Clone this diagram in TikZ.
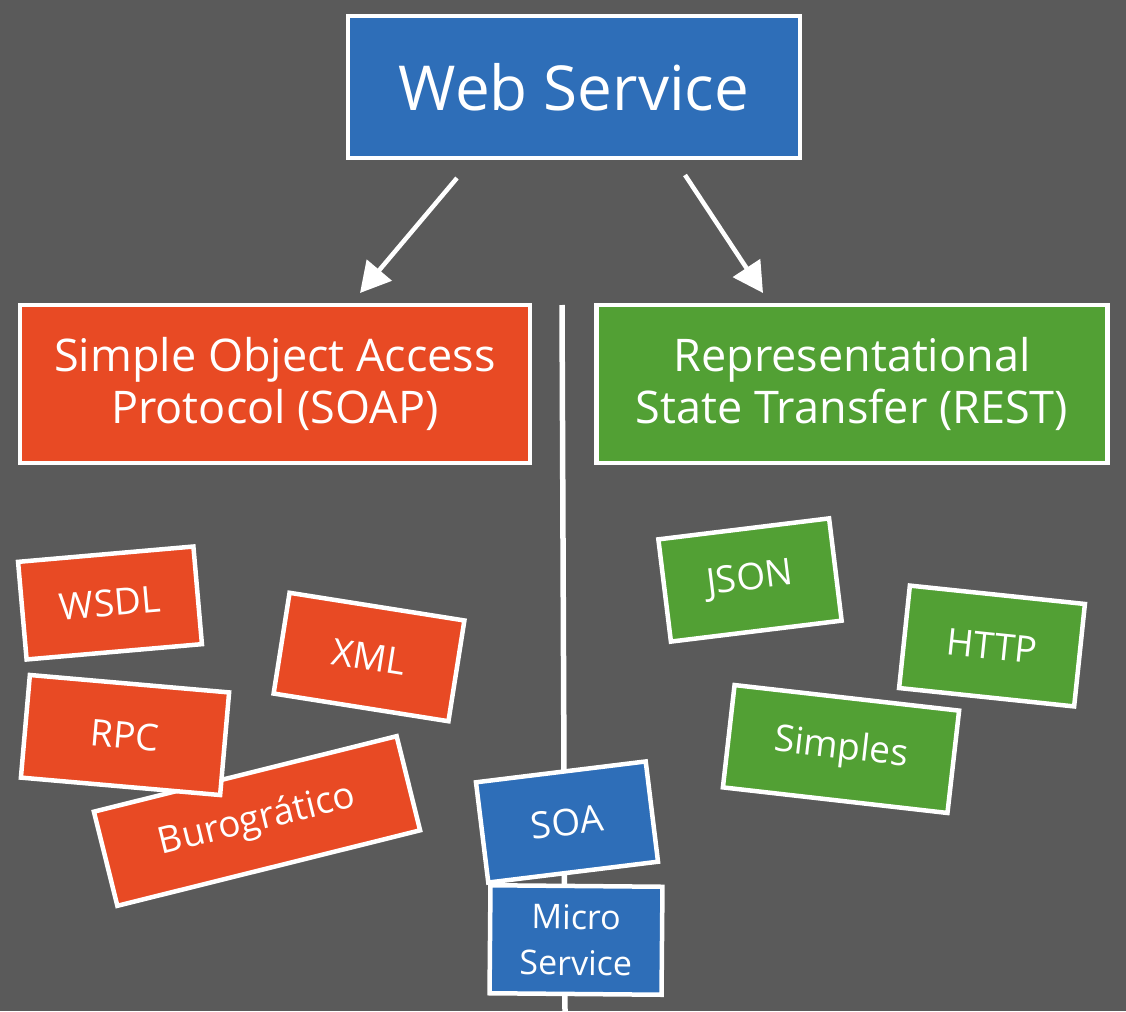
\documentclass[tikz,border=0pt]{standalone}
\usepackage{fontspec}
\setmainfont{Open Sans}
\usetikzlibrary{arrows.meta}
\definecolor{bg}{RGB}{90,90,90}
\definecolor{wsblue}{RGB}{46,110,184}
\definecolor{soapred}{RGB}{232,74,36}
\definecolor{restgreen}{RGB}{82,160,52}
\begin{document}
\begin{tikzpicture}[x=1pt,y=-1pt,
  card/.style={draw=white,line width=4.5pt,text=white,inner sep=0pt,align=center},
  bigtxt/.style={font=\fontsize{62}{68}\selectfont},
  midtxt/.style={font=\fontsize{45}{52}\selectfont},
  smalltxt/.style={font=\fontsize{37}{46}\selectfont},
  chalkarrow/.style={draw=white,line width=4.5pt,-{Triangle[width=32pt,length=30pt,fill=white]}},
  post/.style={draw=white,line width=5.5pt}]
\fill[bg] (0,0) rectangle (1126,1011);
\useasboundingbox (0,0) rectangle (1126,1011);

% vertical post
\coordinate (postTop) at (562,305);
\coordinate (postBot) at (565,1011);
\draw[post] (postTop) -- (postBot);

% main boxes
\node[card,fill=wsblue,bigtxt,minimum width=452pt,minimum height=142pt] (ws) at (574,87) {Web Service};
\node[card,fill=soapred,midtxt,minimum width=510pt,minimum height=158pt] (soap) at (275,384) {Simple Object Access\\Protocol (SOAP)};
\node[card,fill=restgreen,midtxt,minimum width=511pt,minimum height=158pt] (rest) at (852,384) {Representational\\State Transfer (REST)};

% arrows
\coordinate (a1s) at (457,178);
\coordinate (a1e) at (360,293);
\coordinate (a2s) at (685,175);
\coordinate (a2e) at (763,293);
\draw[chalkarrow] (a1s) -- (a1e);
\draw[chalkarrow] (a2s) -- (a2e);

% SOAP cards
\node[card,fill=soapred,smalltxt,minimum width=176pt,minimum height=98pt,rotate=5] (wsdl) at (110,603) {WSDL};
\node[card,fill=soapred,smalltxt,minimum width=177pt,minimum height=102pt,rotate=-9] (xml) at (369,657) {XML};
\node[card,fill=soapred,smalltxt,minimum width=312pt,minimum height=97pt,rotate=14] (buro) at (257,821) {Burogrático};
\node[card,fill=soapred,smalltxt,minimum width=200pt,minimum height=103pt,rotate=-5] (rpc) at (125,735) {RPC};

% REST cards
\node[card,fill=restgreen,smalltxt,minimum width=172pt,minimum height=103pt,rotate=7] (json) at (750,580) {JSON};
\node[card,fill=restgreen,smalltxt,minimum width=176pt,minimum height=103pt,rotate=-6] (http) at (992,646) {HTTP};
\node[card,fill=restgreen,smalltxt,minimum width=226pt,minimum height=103pt,rotate=-6.5] (simp) at (841,749) {Simples};

% signpost cards
\node[card,fill=wsblue,smalltxt,minimum width=171pt,minimum height=101pt,rotate=7] (soa) at (567,822) {SOA};
\node[card,fill=wsblue,font=\fontsize{34}{46}\selectfont,minimum width=172pt,minimum height=108pt,rotate=-0.5] (micro) at (576,940) {Micro\\Service};
\end{tikzpicture}
\end{document}
